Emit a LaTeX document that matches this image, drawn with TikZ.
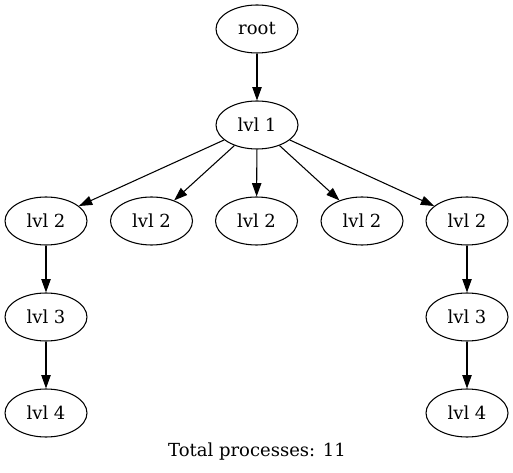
\documentclass[tikz,border=0pt]{standalone}
\usepackage{fontspec}
\setmainfont{DejaVu Serif}
\usepackage{tikz}
\usetikzlibrary{shapes.geometric,arrows.meta}

\begin{document}
\begin{tikzpicture}[
        x=0.75pt, y=-0.75pt,
        procnode/.style={ellipse, draw=black, line width=0.8pt, inner sep=0pt, minimum width=61.5pt, minimum height=36pt, font=\fontsize{13.5}{16}\selectfont},
        tree/.style={-{Triangle[length=10pt,width=7pt]}, line width=0.8pt}
        ]
            \useasboundingbox (0,0) rectangle (513,473);

            \node[procnode] (R) at (257,29) {root};
            \node[procnode] (L1) at (257,125) {lvl 1};
            \node[procnode] (A2) at (46,221) {lvl 2};
            \node[procnode] (B2) at (151.5,221) {lvl 2};
            \node[procnode] (C2) at (256.5,221) {lvl 2};
            \node[procnode] (D2) at (362,221) {lvl 2};
            \node[procnode] (E2) at (467,221) {lvl 2};
            \node[procnode] (A3) at (46,317) {lvl 3};
            \node[procnode] (E3) at (467,317) {lvl 3};
            \node[procnode] (A4) at (46,413) {lvl 4};
            \node[procnode] (E4) at (467,413) {lvl 4};
            \node[font=\fontsize{13.5}{16}\selectfont] (T) at (257,452) {Total processes: 11};

            \draw[tree] (R) -- (L1);
            \draw[tree] (L1) -- (A2);
            \draw[tree] (L1) -- (B2);
            \draw[tree] (L1) -- (C2);
            \draw[tree] (L1) -- (D2);
            \draw[tree] (L1) -- (E2);
            \draw[tree] (A2) -- (A3);
            \draw[tree] (A3) -- (A4);
            \draw[tree] (E2) -- (E3);
            \draw[tree] (E3) -- (E4);

        \end{tikzpicture}
\end{document}
